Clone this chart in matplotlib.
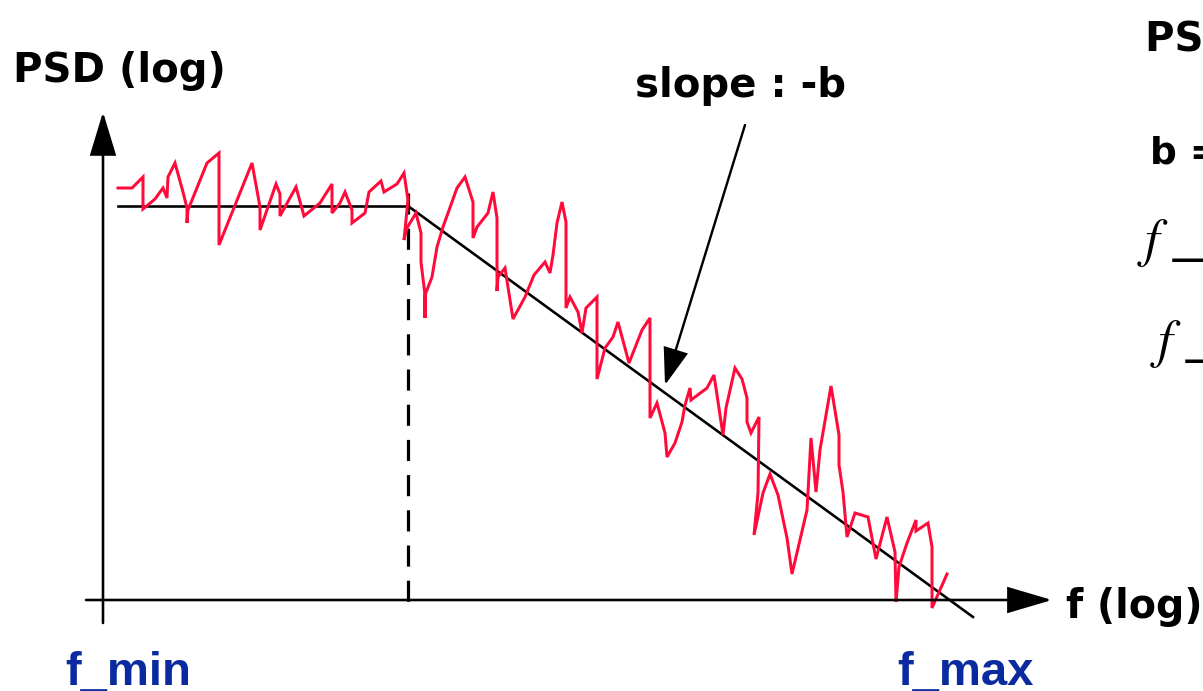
import matplotlib
matplotlib.use("Agg")
import matplotlib.pyplot as plt

# ---- schematic data (drawing units: x = log f position, y = log PSD position, y grows downward) ----
noise_x = [118, 132, 143, 143, 155, 163, 167, 168, 175, 183, 187, 187, 188, 207, 219, 219,
           252, 260, 260, 276, 280, 280, 296, 304, 320, 332, 332, 340, 345, 352, 352, 365,
           369, 381, 384, 397, 404, 408, 404, 407, 416, 421, 421, 425, 425, 425, 432, 437,
           443, 457, 465, 473, 473, 477, 488, 493, 497, 497, 498, 505, 513, 525, 534, 545,
           550, 553, 557, 562, 566, 566, 570, 578, 582, 586, 597, 597, 605, 613, 618, 629,
           642, 650, 650, 657, 665, 667, 675, 682, 685, 690, 691, 707, 714, 723, 726, 735,
           742, 747, 747, 751, 759, 758, 754, 763, 770, 778, 787, 792, 807, 811, 816, 820,
           831, 839, 839, 843, 847, 855, 868, 876, 887, 895, 896, 899, 907, 916, 916, 928,
           932, 932, 947]
noise_y = [188, 188, 177, 209, 199, 188, 198, 177, 163, 192, 208, 223, 210, 163, 153, 245,
           163, 207, 230, 184, 194, 216, 187, 216, 203, 184, 213, 203, 192, 210, 223, 213,
           192, 181, 192, 184, 173, 200, 240, 228, 213, 233, 262, 295, 318, 295, 277, 247,
           227, 188, 177, 202, 238, 227, 213, 192, 218, 291, 277, 268, 319, 297, 275, 262,
           273, 255, 223, 202, 222, 308, 297, 312, 333, 308, 297, 379, 348, 337, 322, 363,
           330, 318, 418, 403, 433, 457, 443, 422, 405, 388, 400, 388, 375, 435, 408, 368,
           379, 398, 422, 433, 417, 493, 535, 493, 474, 495, 538, 574, 510, 438, 492, 450,
           386, 435, 465, 492, 537, 513, 517, 559, 517, 552, 602, 567, 543, 520, 531, 523,
           547, 608, 574]

plateau_x = [118, 408]
plateau_y = [206, 206]
slope_x = [408, 973]
slope_y = [206, 617]
knee_x = [408, 408]
knee_y = [193, 607]

yaxis_x = [103, 103]
yaxis_y = [623, 112]
xaxis_x = [86, 1052]
xaxis_y = [600, 600]

W, H = 1203, 691
plt.rcParams["mathtext.fontset"] = "stix"
fig = plt.figure(figsize=(W / 100, H / 100), dpi=100)
ax = fig.add_axes([0, 0, 1, 1])
ax.set_xlim(0, W)
ax.set_ylim(H, 0)
ax.axis("off")

px = 72 / 100  # points per pixel

red = "#ff0a3a"
ax.plot(noise_x, noise_y, color=red, lw=3.0 * px, solid_joinstyle="miter", zorder=3)
ax.plot(plateau_x, plateau_y, color="black", lw=2.6 * px, zorder=2)
ax.plot(slope_x, slope_y, color="black", lw=2.6 * px, zorder=2)
ax.plot(knee_x, knee_y, color="black", lw=3.2 * px, ls=(0, (6.6, 4.4)), zorder=2)

def arrow(x, y, hl, hw, lw):
    ax.annotate("", xy=(x[1], y[1]), xytext=(x[0], y[0]),
                arrowprops=dict(arrowstyle=f"-|>,head_length={hl * px},head_width={hw * px}",
                                mutation_scale=1, shrinkA=0, shrinkB=0,
                                color="black", lw=lw * px, joinstyle="miter"),
                zorder=4)

arrow(yaxis_x, yaxis_y, 38, 11.5, 2.6)
arrow(xaxis_x, xaxis_y, 39, 11.5, 2.6)
arrow([745, 665], [125, 385], 32, 11, 2.4)

bold_black = dict(family="DejaVu Sans", weight="bold", color="black", va="baseline", ha="left")
ax.text(13, 82, "PSD (log)", fontsize=29, **bold_black)
ax.text(635, 97, "slope : -b", fontsize=29, **bold_black)
ax.text(1066, 618, "f (log)", fontsize=28.5, **bold_black)
ax.text(1145, 50, "PSD = a / f^b", fontsize=29, **bold_black)
ax.text(1150, 163, "b = 1", fontsize=27, **bold_black)

blue = "#0a2aa0"
ax.text(65, 685, "f_min", fontsize=34, family="Liberation Sans", weight="bold",
        color=blue, va="baseline", ha="left")
ax.text(897, 685, "f_max", fontsize=34, family="Liberation Sans", weight="bold",
        color=blue, va="baseline", ha="left")

ax.text(1137, 256, r"$f$", fontsize=38, color="black", va="baseline", ha="left")
ax.text(1173, 251, "_min", fontsize=38, family="Liberation Sans",
        color="black", va="baseline", ha="left")
ax.text(1150, 357, r"$f$", fontsize=38, color="black", va="baseline", ha="left")
ax.text(1186, 352, "_max", fontsize=38, family="Liberation Sans",
        color="black", va="baseline", ha="left")

fig.savefig("out.png", dpi=100)
